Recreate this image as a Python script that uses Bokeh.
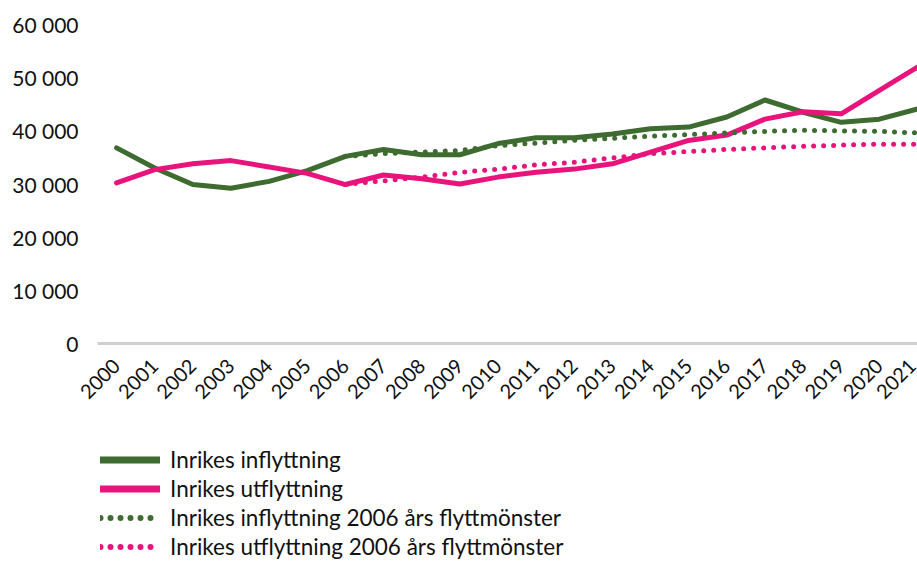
from math import pi
from bokeh.plotting import figure
from bokeh.layouts import column
from bokeh.models import Range1d, FixedTicker, Legend, LegendItem, ColumnDataSource
from bokeh.embed import file_html
from bokeh.resources import INLINE

years = list(range(2000, 2022))
inflyttning = [36800, 33000, 29900, 29200, 30500, 32500, 35200, 36500, 35500, 35500, 37600,
               38700, 38700, 39400, 40400, 40700, 42600, 45800, 43500, 41600, 42200, 44100]
utflyttning = [30200, 32700, 33800, 34400, 33200, 32000, 29900, 31700, 31000, 30000, 31300,
               32200, 32800, 33800, 36000, 38200, 39200, 42200, 43600, 43200, 47600, 52000]
years_2006 = list(range(2006, 2022))
inflyttning_2006 = [35200, 35700, 36000, 36300, 37200, 37700, 38200, 38600, 39000, 39300,
                    39600, 39900, 40100, 40000, 39900, 39600]
utflyttning_2006 = [29900, 30600, 31300, 32200, 32800, 33600, 34100, 34900, 35700, 36100,
                    36500, 36800, 37100, 37300, 37500, 37500]
y_ticks = [0, 10000, 20000, 30000, 40000, 50000, 60000]
y_tick_labels = ["0", "10 000", "20 000", "30 000", "40 000", "50 000", "60 000"]
labels = ["Inrikes inflyttning", "Inrikes utflyttning",
          "Inrikes inflyttning 2006 års flyttmönster", "Inrikes utflyttning 2006 års flyttmönster"]

GREEN = "#3e6b30"
PINK = "#e8147c"
FONT = "Lato"
TEXT = "#111111"

p = figure(frame_width=820, frame_height=319, output_backend="svg", toolbar_location=None,
           x_range=Range1d(1999.5, 2021.0), y_range=Range1d(0, 60000),
           min_border_left=97, min_border_right=0, min_border_top=24, min_border_bottom=102)
p.outline_line_color = None
p.grid.visible = False

p.line(years, inflyttning, line_color=GREEN, line_width=5, line_join="round", line_cap="round")
p.line(years, utflyttning, line_color=PINK, line_width=5, line_join="round", line_cap="round")
p.line(years_2006, inflyttning_2006, line_color=GREEN, line_width=5, line_dash="0 10", line_cap="round")
p.line(years_2006, utflyttning_2006, line_color=PINK, line_width=5, line_dash="0 10", line_cap="round")

yax = p.yaxis[0]
yax.ticker = FixedTicker(ticks=y_ticks)
yax.major_label_overrides = {t: s for t, s in zip(y_ticks, y_tick_labels)}
yax.axis_line_color = None
yax.major_tick_line_color = None
yax.minor_tick_line_color = None
yax.major_label_standoff = 13
yax.major_label_text_font = FONT
yax.major_label_text_font_size = "21px"
yax.major_label_text_color = TEXT

xax = p.xaxis[0]
xax.ticker = FixedTicker(ticks=years)
xax.major_label_overrides = {y: str(y) for y in years}
xax.axis_line_color = "#d0d0d0"
xax.axis_line_width = 3
xax.major_tick_line_color = None
xax.minor_tick_line_color = None
xax.major_label_orientation = pi / 4
xax.major_label_standoff = 13
xax.major_label_text_font = FONT
xax.major_label_text_font_size = "20px"
xax.major_label_text_color = TEXT

# legend panel
q = figure(width=917, height=116, output_backend="svg", toolbar_location=None,
           x_range=Range1d(0, 1), y_range=Range1d(0, 1),
           x_axis_type=None, y_axis_type=None,
           min_border_left=0, min_border_right=0, min_border_top=0, min_border_bottom=0)
q.outline_line_color = None
q.grid.visible = False

off = dict(x=[-5, -4], y=[-5, -4])
l1 = q.line("x", "y", source=ColumnDataSource(off), line_color=GREEN, line_width=7, line_cap="round")
l2 = q.line("x", "y", source=ColumnDataSource(off), line_color=PINK, line_width=7, line_cap="round")
l3 = q.line("x", "y", source=ColumnDataSource(off), line_color=GREEN, line_width=6, line_dash="0 10", line_cap="round")
l4 = q.line("x", "y", source=ColumnDataSource(off), line_color=PINK, line_width=6, line_dash="0 10", line_cap="round")

legend = Legend(items=[LegendItem(label=labels[0], renderers=[l1]),
                       LegendItem(label=labels[1], renderers=[l2]),
                       LegendItem(label=labels[2], renderers=[l3]),
                       LegendItem(label=labels[3], renderers=[l4])],
                orientation="vertical", location=(3, 0))
legend.border_line_color = None
legend.background_fill_color = None
legend.glyph_width = 60
legend.glyph_height = 29
legend.label_height = 29
legend.label_standoff = 10
legend.spacing = 0
legend.padding = 0
legend.margin = 0
legend.label_text_font = FONT
legend.label_text_font_size = "22.5px"
legend.label_text_color = TEXT
q.add_layout(legend, "center")

layout = column(p, q, spacing=0)
open("out.html", "w").write(file_html(layout, INLINE))
